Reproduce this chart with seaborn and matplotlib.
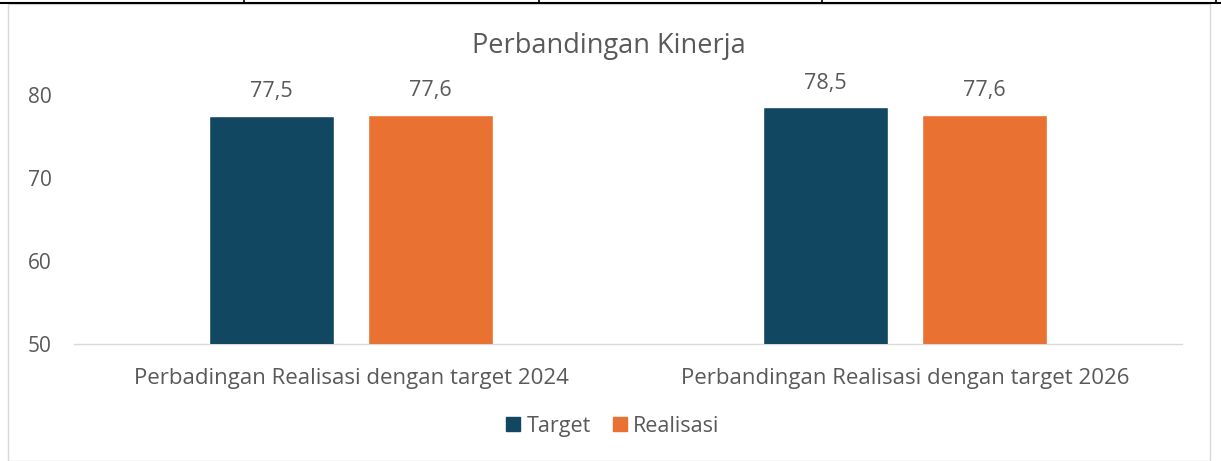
import matplotlib
matplotlib.use("Agg")
import matplotlib.pyplot as plt
from matplotlib.lines import Line2D
from matplotlib.patches import Rectangle
import seaborn as sns
import pandas as pd

categories = ["Perbadingan Realisasi dengan target 2024", "Perbandingan Realisasi dengan target 2026"]
series_names = ["Target", "Realisasi"]
target_values = [77.5, 78.5]
realisasi_values = [77.6, 77.6]
y_ticks = [50, 60, 70, 80]
title = "Perbandingan Kinerja"

colors = ["#124761", "#E97132"]
text_color = "#595959"

df = pd.DataFrame({
    "category": categories * 2,
    "series": [series_names[0]] * 2 + [series_names[1]] * 2,
    "value": target_values + realisasi_values,
})

sns.set_style("white")
plt.rcParams["font.family"] = ["Open Sans", "DejaVu Sans"]

W, H = 1221, 461
fig = plt.figure(figsize=(W / 100, H / 100), dpi=100)
ax = fig.add_axes([74 / W, 1 - 344 / H, (1182 - 74) / W, (344 - 95) / H])

sns.barplot(data=df, x="category", y="value", hue="series", palette=colors,
            width=0.574, gap=0.214, ax=ax, legend=True, saturation=1)

ax.set_ylim(50, 80)
ax.set_xlim(-0.5, 1.5)
ax.set_yticks(y_ticks)
ax.set_yticklabels([str(t) for t in y_ticks])
ax.tick_params(axis="y", length=0, pad=16, labelsize=15, labelcolor=text_color)
ax.tick_params(axis="x", which="major", length=0, pad=17, labelsize=16, labelcolor=text_color)
ax.set_xticks([-0.5, 0.5, 1.5], minor=True)
ax.tick_params(axis="x", which="minor", length=6, width=1, color="#D9D9D9", direction="out")
ax.set_xlabel("")
ax.set_ylabel("")
for s in ["top", "right", "left"]:
    ax.spines[s].set_visible(False)
ax.spines["bottom"].set_color("#D9D9D9")
ax.spines["bottom"].set_linewidth(1)
ax.spines["bottom"].set_zorder(0)
ax.grid(False)

for cont in ax.containers:
    labels = [f"{v:.1f}".replace(".", ",") for v in cont.datavalues]
    ax.bar_label(cont, labels=labels, padding=10, fontsize=15.5, color=text_color, clip_on=False)

ax.legend_.remove()
handles = [Rectangle((0, 0), 1, 1, color=c) for c in colors]
fig.legend(handles, series_names, loc="center", bbox_to_anchor=(613 / W, 1 - 426 / H),
           ncol=2, frameon=False, fontsize=15.5, labelcolor=text_color,
           handlelength=0.65, handleheight=0.65, handletextpad=0.3, columnspacing=1.0)

fig.text(609 / W, 1 - 46 / H, title, ha="center", va="center", fontsize=19.5, color=text_color)

# chart border and top table line
fig.patches.append(Rectangle((8 / W, 0), (1210 - 8) / W, 1 - 4 / H, transform=fig.transFigure,
                             fill=False, edgecolor="#D9D9D9", linewidth=1))
fig.lines.append(Line2D([0, 1], [1 - 3 / H, 1 - 3 / H], transform=fig.transFigure, color="black", linewidth=1.5))
for xv in [244, 539, 822, 1216]:
    fig.lines.append(Line2D([xv / W, xv / W], [1 - 3 / H, 1], transform=fig.transFigure, color="black", linewidth=1.2))

fig.savefig("out.png", dpi=100)
